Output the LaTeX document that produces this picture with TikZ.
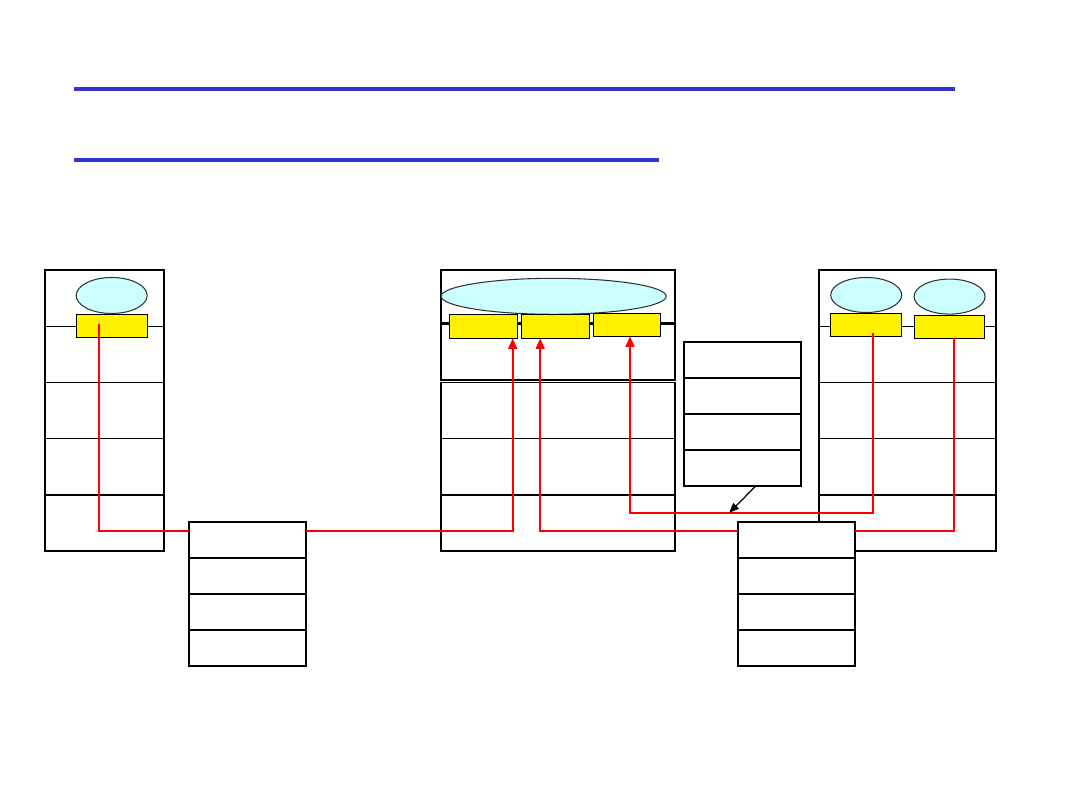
\documentclass[tikz,border=0pt]{standalone}
\usepackage{tikz}
\usetikzlibrary{arrows.meta, positioning, shapes.geometric}
\definecolor{rulecolor}{RGB}{51,51,204}
\definecolor{appfill}{RGB}{204,255,255}
\newdimen\px
\px=0.02cm

\begin{document}
\begin{tikzpicture}[
    x=0.02cm, y=-0.02cm,
    layer/.style={draw=black, line width=0.6pt, fill=white, inner sep=0pt, outer sep=0pt, minimum height=56.2\px},
    frame/.style={draw=black, line width=1.3pt},
    rtrow/.style={draw=black, line width=1.3pt, fill=white, inner sep=0pt, outer sep=0pt, minimum width=117\px, minimum height=36\px},
    app/.style={ellipse, draw=black!80, line width=0.6pt, fill=appfill, inner sep=0pt, minimum height=36\px},
    port/.style={rectangle, draw=black, line width=0.7pt, fill=yellow, inner sep=0pt, outer sep=0pt, minimum height=23\px},
    link/.style={draw=red, line width=1.2pt},
    linkto/.style={link, -{Triangle[length=6pt, width=5pt]}},
    ptr/.style={draw=black, line width=0.7pt, -{Triangle[length=5.5pt, width=4.5pt]}},
    titlerule/.style={draw=rulecolor, line width=2.3pt}
]
\useasboundingbox (0,0) rectangle (1080,810);

% Title rules
\draw[titlerule] (74,89) -- (955,89);
\draw[titlerule] (74,160) -- (659,160);

% Left host
\node[layer, minimum width=119\px, anchor=north west] (hL1) at (45,270) {};
\node[layer, minimum width=119\px, below=0pt of hL1] (hL2) {};
\node[layer, minimum width=119\px, below=0pt of hL2] (hL3) {};
\node[layer, minimum width=119\px, below=0pt of hL3] (hL4) {};
\node[layer, minimum width=119\px, below=0pt of hL4] (hL5) {};
\draw[frame] (hL1.north west) rectangle (hL5.south east);
\draw[frame] (hL5.north west) -- (hL5.north east);

% Middle host
\node[layer, minimum width=234\px, minimum height=53.5\px, anchor=north west] (hM1) at (441,270) {};
\node[layer, minimum width=234\px, minimum height=56.5\px, below=0pt of hM1] (hM2) {};
\node[layer, minimum width=234\px, minimum height=56.3\px, below=2.5\px of hM2] (hM3) {};
\node[layer, minimum width=234\px, minimum height=56.3\px, below=0pt of hM3] (hM4) {};
\node[layer, minimum width=234\px, minimum height=56\px, below=0pt of hM4] (hM5) {};
\draw[frame] (hM2.south west) |- (hM1.north east) -- (hM2.south east);
\draw[frame] (hM2.north west) -- (hM2.north east);
\draw[frame] (hM3.north west) |- (hM5.south east) -- (hM3.north east);
\draw[frame] (hM5.north west) -- (hM5.north east);

% Right host
\node[layer, minimum width=177\px, anchor=north west] (hR1) at (819,270) {};
\node[layer, minimum width=177\px, below=0pt of hR1] (hR2) {};
\node[layer, minimum width=177\px, below=0pt of hR2] (hR3) {};
\node[layer, minimum width=177\px, below=0pt of hR3] (hR4) {};
\node[layer, minimum width=177\px, below=0pt of hR4] (hR5) {};
\draw[frame] (hR5.south west) |- (hR1.north east);
\draw[frame] (hR5.north west) -- (hR5.north east);

% Routers
\node[rtrow, anchor=north west] (r1a) at (189,522) {};
\node[rtrow, below=0pt of r1a] (r1b) {};
\node[rtrow, below=0pt of r1b] (r1c) {};
\node[rtrow, below=0pt of r1c] (r1d) {};

\node[rtrow, anchor=north west] (r2a) at (738,522) {};
\node[rtrow, below=0pt of r2a] (r2b) {};
\node[rtrow, below=0pt of r2b] (r2c) {};
\node[rtrow, below=0pt of r2c] (r2d) {};

% Header stack
\node[rtrow, anchor=north west] (st1) at (684,342) {};
\node[rtrow, below=0pt of st1, line width=0.6pt] (st2) {};
\node[rtrow, below=0pt of st2] (st3) {};
\node[rtrow, below=0pt of st3] (st4) {};
\draw[frame] (st1.north west) rectangle (st4.south east);

% Processes and ports
\node[app, minimum width=71\px] (aL) at (111.7,295.5) {};
\node[port, minimum width=71\px, below=0.5\px of aL] (pL) {};

\node[app, minimum width=225\px] (aM) at (553.7,296.3) {};
\node[port, minimum width=68\px, minimum height=24\px, anchor=north west] (pM1) at (449.3,314.3) {};
\node[port, minimum width=68\px, minimum height=24\px, right=4.4\px of pM1] (pM2) {};
\node[port, minimum width=67\px, anchor=north west] (pM3) at (593.3,313.3) {};

\node[app, minimum width=71\px, minimum height=35\px] (aR1) at (866.2,295) {};
\node[app, minimum width=71\px, minimum height=35\px] (aR2) at (949.6,296.6) {};
\node[port, minimum width=71\px, below=0.5\px of aR1] (pR1) {};
\node[port, minimum width=70\px, anchor=north west] (pR2) at (914.3,315.3) {};

% Links
\coordinate (hit) at (729.3,512.7);
\draw[link] ([xshift=-13\px, yshift=2\px]pL.center) |- ([yshift=9.3\px]r1a.west);
\draw[linkto] ([yshift=9.3\px]r1a.east) -| ([xshift=29.4\px]pM1.south);
\draw[linkto] ([yshift=9.3\px]r2a.west) -| ([xshift=-15.5\px]pM2.south);
\draw[link] ([xshift=4.4\px]pR2.south) |- ([yshift=9.3\px]r2a.east);
\draw[linkto] ([xshift=6.5\px, yshift=-8.2\px]pR1.center) |- (hit) -| ([xshift=3.2\px]pM3.south);

% Pointer
\draw[ptr] ([xshift=13.3\px]st4.south) -- (hit);

\end{tikzpicture}
\end{document}
